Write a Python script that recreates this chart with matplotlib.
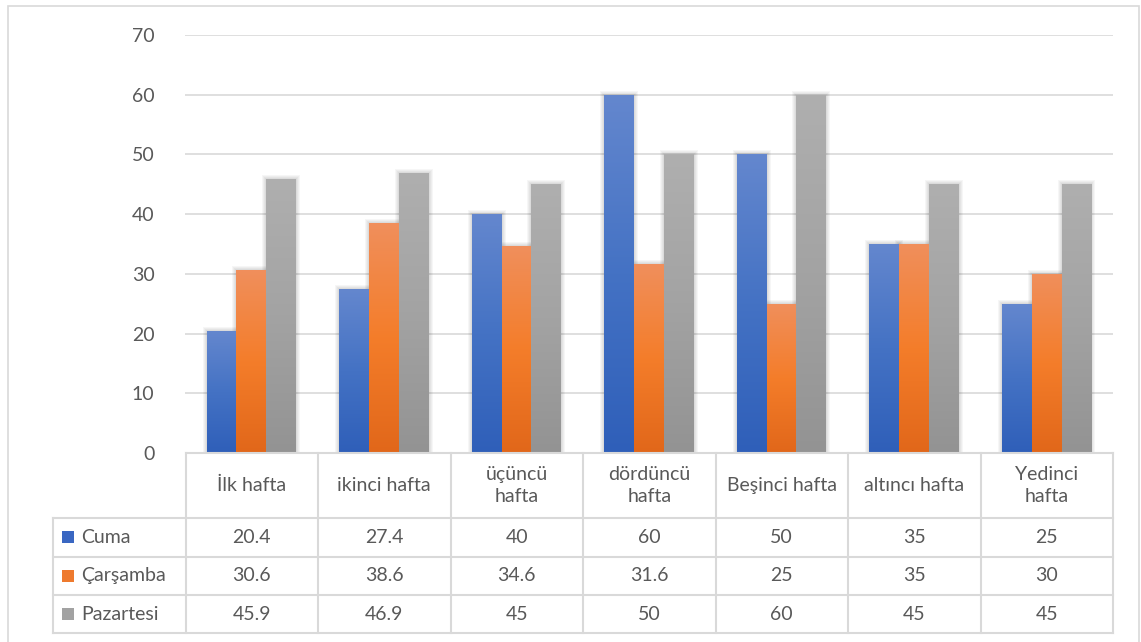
import numpy as np
import matplotlib
matplotlib.use('Agg')
import matplotlib.pyplot as plt
from matplotlib.colors import LinearSegmentedColormap
from matplotlib.patches import Rectangle

plt.rcParams['font.family'] = ['Lato', 'DejaVu Sans']

# Veriler
haftalar = ['İlk hafta', 'ikinci hafta', 'üçüncü\nhafta', 'dördüncü\nhafta',
            'Beşinci hafta', 'altıncı hafta', 'Yedinci\nhafta']
seriler = ['Cuma', 'Çarşamba', 'Pazartesi']
cuma = [20.4, 27.4, 40, 60, 50, 35, 25]
carsamba = [30.6, 38.6, 34.6, 31.6, 25, 35, 30]
pazartesi = [45.9, 46.9, 45, 50, 60, 45, 45]
degerler = [cuma, carsamba, pazartesi]
y_ticks = [0, 10, 20, 30, 40, 50, 60, 70]

# Renkler (üst, orta, alt) - Excel gradyanı
gradyanlar = [
    ['#6487CE', '#4472C4', '#2F5FB9'],
    ['#F08F5C', '#F47D2A', '#E1671A'],
    ['#AFAFAF', '#A3A3A3', '#939393'],
]
anahtar_renk = ['#3A67C2', '#EE7A2E', '#A2A2A2']
metin_renk = '#595959'
cizgi_renk = '#D9D9D9'
yazi = 14

W, H = 1141, 642
fig = plt.figure(figsize=(W / 100, H / 100), dpi=100)


def px_axes(x0, y0, x1, y1):
    return fig.add_axes([x0 / W, 1 - y1 / H, (x1 - x0) / W, (y1 - y0) / H])


# Dış çerçeve
fig.patches.append(Rectangle((8 / W, -0.1), (1139 - 8) / W, 1.1 - 6 / H,
                             transform=fig.transFigure, fill=False,
                             edgecolor=cizgi_renk, linewidth=1.2))

# Çubuk grafik
ax = px_axes(185, 35, 1113, 453)
ax.set_xlim(0, 7)
ax.set_ylim(0, 70)
for y in y_ticks[1:]:
    ax.axhline(y, color=cizgi_renk, linewidth=1.2, zorder=0)

bw = 0.225
dx = 7 / 928  # bir pikselin x karşılığı
dy = 70 / 418
x = np.arange(len(haftalar)) + 0.5
for k, vals in enumerate(degerler):
    bars = ax.bar(x + (k - 1) * bw, vals, width=bw, color=gradyanlar[k][1],
                  zorder=2, linewidth=0)
    cmap = LinearSegmentedColormap.from_list('g%d' % k, gradyanlar[k])
    grad = np.linspace(0, 1, 256).reshape(-1, 1)
    for b in bars:
        bx, by = b.get_x(), b.get_y()
        bwid, bh = b.get_width(), b.get_height()
        # yumuşak gölge
        for s in (1, 2, 3, 4):
            ax.add_patch(Rectangle((bx - s * dx, by), bwid + 2 * s * dx,
                                   bh + s * dy, facecolor='#000000',
                                   alpha=0.035, edgecolor='none', zorder=1))
        im = ax.imshow(grad, cmap=cmap, aspect='auto', zorder=3,
                       extent=[bx, bx + bwid, by, by + bh], origin='upper')
        im.set_clip_path(b)

ax.set_xlim(0, 7)
ax.set_ylim(0, 70)
ax.set_yticks(y_ticks)
ax.set_yticklabels([str(v) for v in y_ticks])
ax.tick_params(axis='y', length=0, pad=22, labelsize=yazi, labelcolor=metin_renk)
ax.set_xticks([])
for s in ax.spines.values():
    s.set_visible(False)

# Veri tablosu
tab = px_axes(53, 453, 1113, 633)
tab.set_xlim(-1, 7)
tab.set_ylim(180, 0)
tab.axis('off')
satirlar = [0, 65, 103.5, 142, 180]
lw = 1.5
tab.plot([0, 7], [0, 0], color=cizgi_renk, lw=lw, clip_on=False, zorder=5)
for y in satirlar[1:]:
    tab.plot([-1, 7], [y, y], color=cizgi_renk, lw=lw, clip_on=False)
tab.plot([-1, -1], [65, 180], color=cizgi_renk, lw=lw, clip_on=False)
for i in range(8):
    tab.plot([i, i], [0, 180], color=cizgi_renk, lw=lw, clip_on=False)

for i, h in enumerate(haftalar):
    tab.text(i + 0.5, 32.5, h, ha='center', va='center', fontsize=yazi,
             color=metin_renk, linespacing=1.35)

birim = 1 / 132.5
for k, ad in enumerate(seriler):
    yc = (satirlar[k + 1] + satirlar[k + 2]) / 2
    tab.add_patch(Rectangle((-1 + 9 * birim, yc - 6), 12 * birim, 12,
                            facecolor=anahtar_renk[k], edgecolor='none'))
    tab.text(-1 + 28 * birim, yc, ad, ha='left', va='center', fontsize=yazi,
             color=metin_renk)
    for i, v in enumerate(degerler[k]):
        tab.text(i + 0.5, yc, '%g' % v, ha='center', va='center', fontsize=yazi,
                 color=metin_renk)

fig.savefig('out.png', dpi=100)
